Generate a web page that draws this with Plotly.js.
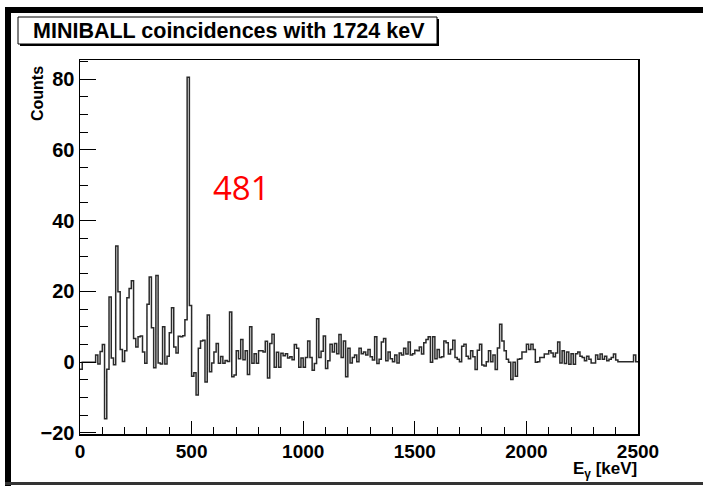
<!DOCTYPE html>
<html>
<head>
<meta charset="utf-8">
<script src="https://cdn.plot.ly/plotly-3.0.1.min.js"></script>
<style>html,body{margin:0;padding:0;background:#fff;}#chart{width:703px;height:486px;}</style>
</head>
<body>
<div id="chart"></div>
<script>
// ---- data ----
const binStart = 0;      // keV
const binWidth = 10;     // keV
const counts = [
  -2, 0, 0, 0, 0, 0, 0, 2, -0.5, 3,
  5, -16, -2, 18.4, 1.2, -0.7, 32.8, 19.9, 3.6, 0.2,
  3.2, 18.2, 20.8, 23, 6.7, 4.3, 7.2, 7.4, 2.9, -0.3,
  16.4, 24.1, 9.7, -1.6, 24.5, -0.2, -0.5, 10, -0.5, 1.7,
  8.3, 15.4, 4.3, 2.6, 7.3, 7.2, 7.5, 12, 80.5, 16,
  -4, -3, -9.3, 3.9, 6, 6.2, -5.6, 13.3, -2.7, -0.2,
  2.9, 5.3, -0.3, 1.6, -0.3, 0.5, 0.2, 14.2, -4.1, -3.6,
  3.2, 1, 6.4, 0.7, 3.2, -3.5, 10, -0.3, 2.4, -0.3,
  3.2, 3.2, 2.9, 5.9, -4.5, 5.3, 7.9, -1.4, 2.8, -1.4,
  2.5, 1.8, 2.4, 1.2, 1.5, 0.7, 5, 3.9, -1.4, 1.2,
  -1.4, 1.3, 6, 1.3, -2.3, -0.4, 12.3, 1.3, 3.1, 7.4,
  -1.8, 0.4, 5.1, 2.9, 5.3, 2.4, 7.8, 1.3, 6, -4.1,
  3.9, -0.2, 1.3, 2, 0.1, 3.9, 2.4, 2.9, 2, 3.6,
  1.5, 0.6, 7.2, -0.4, 0.8, 5.7, 6.7, 0.4, 2.9, 1,
  0.1, 2, -0.2, 2.6, 2, 3.9, 2.3, 5.7, 2, 2.4,
  3.4, 3.2, 4.3, 2.3, 5.5, 6.4, 7.2, 0, 7.2, 1,
  3.6, 1.3, 1.5, 6, 5.5, 2.3, 3.6, 6.2, 1.3, 0.8,
  0.1, 4.5, 5.1, 1.7, 1, 3.2, 1.5, -2.1, 3.4, 5.1,
  -0.8, -1.1, 0.1, 3.2, 0.1, 2, -2.1, 4, 10.7, 6,
  3.2, 0.8, 0, -4.9, 0, -4, 0.8, 1, 2.9, 2.9,
  5.1, 3.6, 5.1, 3.6, 0, 0.1, 1.3, 1.3, 2.3, 2.3,
  3.2, 2.6, 1.5, 2.6, 5.7, -0.2, 3.2, -0.4, 2.9, -0.6,
  2.4, -0.6, 2.4, 2.9, 1.7, 1.3, 0.4, 1.7, 0.8, -0.2,
  -0.2, 2, 0.8, 2.3, 0.8, 1.7, 0.4, 0.8, 1.3, 2.3,
  0.6, 0.1, 0.1, 0.1, 0.1, 0.1, 0.1, 0.1, 2, 0.1
];
const xTickVals = [0, 500, 1000, 1500, 2000, 2500];
const yTickVals = [-20, 0, 20, 40, 60, 80];
const titleText = 'MINIBALL coincidences with 1724 keV';
const xTitleText = 'E<sub>γ</sub> [keV]';
const yTitleText = 'Counts';
const peakLabel = '481';

// ---- build step outline from bins ----
const xs = [], ys = [];
counts.forEach((c, i) => { xs.push(binStart + i * binWidth); ys.push(c); });
xs.push(binStart + counts.length * binWidth); ys.push(counts[counts.length - 1]);

// ---- layout geometry (pixels) ----
const W = 703, H = 486;
const M = {l: 80, r: 65, t: 60, b: 52};
const PW = W - M.l - M.r, PH = H - M.t - M.b;
const px = v => (v - M.l) / PW;
const py = v => (H - M.b - v) / PH;

const FONT = 'Liberation Sans, Arial, Helvetica, sans-serif';

const trace = {
  x: xs, y: ys, type: 'scatter', mode: 'lines',
  line: {shape: 'hv', color: '#2a2a2a', width: 1.5},
  hoverinfo: 'skip', showlegend: false
};

const rect = (x0, y0, x1, y1, fill, line) => ({
  type: 'rect', xref: 'paper', yref: 'paper', layer: 'above',
  x0: px(x0), x1: px(x1), y0: py(y1), y1: py(y0),
  fillcolor: fill, line: line || {width: 0}
});

const layout = {
  width: W, height: H,
  margin: M,
  paper_bgcolor: '#fff', plot_bgcolor: '#fff',
  showlegend: false,
  xaxis: {
    range: [0, 2500], showgrid: false, zeroline: false,
    showline: true, mirror: true, linecolor: '#000', linewidth: 1.5,
    ticks: 'inside', tickvals: xTickVals, ticklen: 13, tickwidth: 1, tickcolor: '#000',
    minor: {dtick: 100, ticks: 'inside', ticklen: 7, tickwidth: 1, tickcolor: '#000'},
    tickfont: {family: FONT, size: 19, color: '#000', weight: 'bold'}
  },
  yaxis: {
    range: [-20.3, 85.4], showgrid: false, zeroline: false,
    showline: true, mirror: true, linecolor: '#000', linewidth: 1.5,
    ticks: 'inside', tickvals: yTickVals, ticklen: 16, tickwidth: 1, tickcolor: '#000',
    minor: {dtick: 5, ticks: 'inside', ticklen: 8, tickwidth: 1, tickcolor: '#000'},
    tickfont: {family: FONT, size: 20, color: '#000', weight: 'bold'}
  },
  shapes: [
    rect(5, 7, 11, 486, '#000'),
    rect(5, 7, 703, 13, '#000'),
    rect(5, 482, 703, 485, '#333'),
    rect(20, 19, 439, 46, '#000'),
    rect(18, 17, 437, 44, '#fff', {color: '#000', width: 1})
  ],
  annotations: [
    {xref: 'paper', yref: 'paper', x: px(229), y: py(31), xanchor: 'center', yanchor: 'middle',
     text: titleText, showarrow: false,
     font: {family: FONT, size: 21.5, color: '#000', weight: 'bold'}},
    {xref: 'paper', yref: 'paper', x: px(37), y: py(94), xanchor: 'center', yanchor: 'middle',
     text: yTitleText, textangle: -90, showarrow: false,
     font: {family: FONT, size: 16, color: '#000', weight: 'bold'}},
    {xref: 'paper', yref: 'paper', x: px(639), y: py(470), xanchor: 'right', yanchor: 'middle',
     text: xTitleText, showarrow: false,
     font: {family: FONT, size: 17, color: '#000', weight: 'bold'}},
    {xref: 'paper', yref: 'paper', x: px(241), y: py(187), xanchor: 'center', yanchor: 'middle',
     text: peakLabel, showarrow: false,
     font: {family: 'Open Sans, Liberation Sans, sans-serif', size: 33, color: '#ff0000'}}
  ]
};

Plotly.newPlot('chart', [trace], layout, {staticPlot: true, displayModeBar: false});
</script>
</body>
</html>
